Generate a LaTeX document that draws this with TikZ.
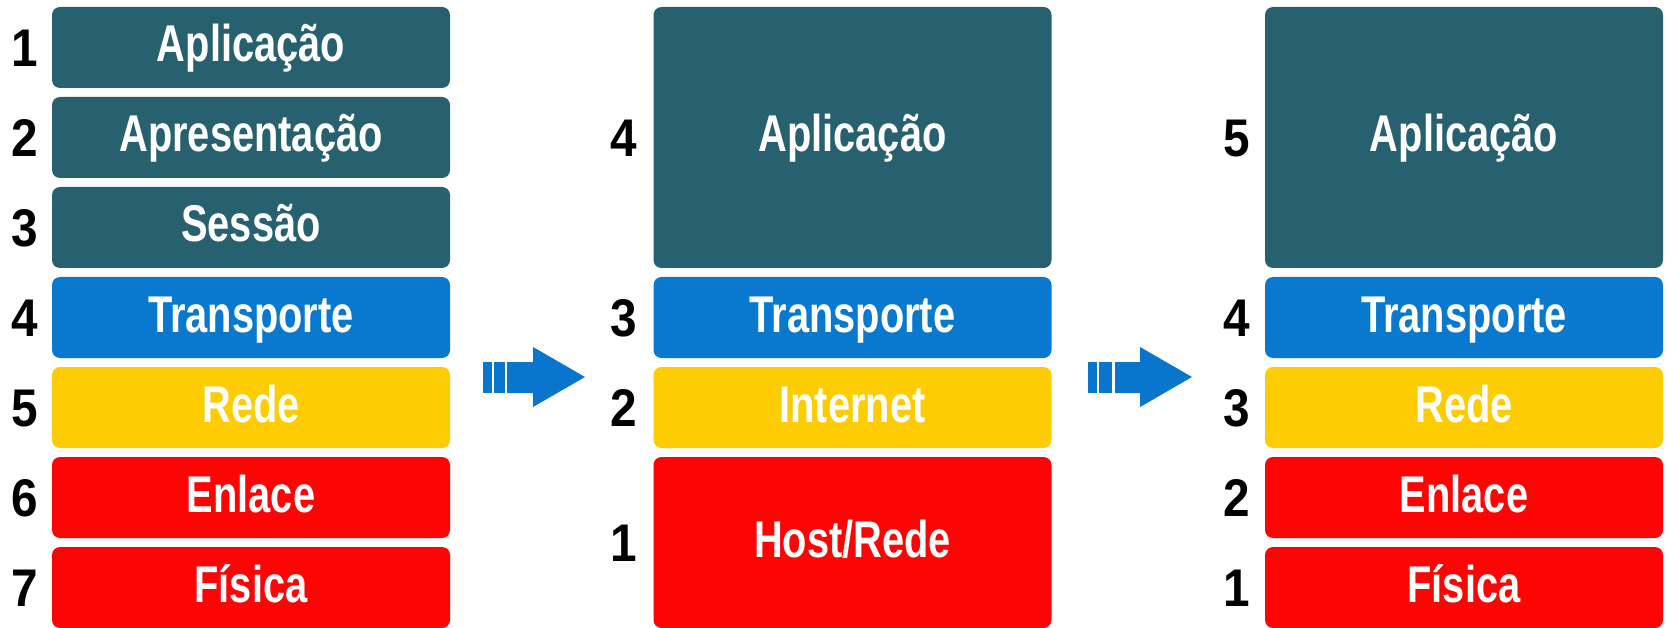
\documentclass[tikz,border=0pt]{standalone}
\usepackage{fontspec}
\setmainfont{Liberation Sans}
\newfontfamily\layerfont[FakeStretch=0.77]{Liberation Sans}
\newfontfamily\numfont[FakeStretch=0.9]{Liberation Sans}
\definecolor{cteal}{RGB}{39,97,111}
\definecolor{cblue}{RGB}{8,121,207}
\definecolor{cyellow}{RGB}{253,204,2}
\definecolor{cred}{RGB}{254,5,5}
\definecolor{carrow}{RGB}{10,117,204}
\tikzset{
  layer/.style={fill=#1, rounded corners=8pt, minimum width=398pt, minimum height=81pt,
    inner sep=0pt, text=white, font=\layerfont\bfseries\fontsize{51.7}{60}\selectfont,
    text height=29pt, text depth=0pt},
  num/.style={inner sep=0pt, text=black, font=\numfont\bfseries\fontsize{53}{60}\selectfont,
    text height=38pt, text depth=0pt},
  arrowshape/.style={fill=carrow, draw=none}
}
\begin{document}
\begin{tikzpicture}[x=1pt,y=-1pt]
\useasboundingbox[fill=white] (0,0) rectangle (1667,628);
% column 1 (OSI)
\node[layer=cteal]   (a1) at (251,47.5)  {Aplicação};
\node[layer=cteal]   (a2) at (251,137.5) {Apresentação};
\node[layer=cteal]   (a3) at (251,227.5) {Sessão};
\node[layer=cblue]   (a4) at (251,317.5) {Transporte};
\node[layer=cyellow] (a5) at (251,407.5) {Rede};
\node[layer=cred]    (a6) at (251,497.5) {Enlace};
\node[layer=cred]    (a7) at (251,587.5) {Física};
\node[num] (na1) at (25,47.5)  {1};
\node[num] (na2) at (25,137.5) {2};
\node[num] (na3) at (25,227.5) {3};
\node[num] (na4) at (25,317.5) {4};
\node[num] (na5) at (25,407.5) {5};
\node[num] (na6) at (25,497.5) {6};
\node[num] (na7) at (25,587.5) {7};
% column 2 (TCP/IP)
\node[layer=cteal, minimum height=261pt] (b4) at (852.5,137.5) {Aplicação};
\node[layer=cblue]   (b3) at (852.5,317.5) {Transporte};
\node[layer=cyellow] (b2) at (852.5,407.5) {Internet};
\node[layer=cred, minimum height=171pt] (b1) at (852.5,542.5) {Host/Rede};
\node[num] (nb4) at (624,137.5) {4};
\node[num] (nb3) at (624,317.5) {3};
\node[num] (nb2) at (624,407.5) {2};
\node[num] (nb1) at (624,542.5) {1};
% column 3 (hybrid)
\node[layer=cteal, minimum height=261pt] (c5) at (1464,137.5) {Aplicação};
\node[layer=cblue]   (c4) at (1464,317.5) {Transporte};
\node[layer=cyellow] (c3) at (1464,407.5) {Rede};
\node[layer=cred]    (c2) at (1464,497.5) {Enlace};
\node[layer=cred]    (c1) at (1464,587.5) {Física};
\node[num] (nc5) at (1237,137.5) {5};
\node[num] (nc4) at (1237,317.5) {4};
\node[num] (nc3) at (1237,407.5) {3};
\node[num] (nc2) at (1237,497.5) {2};
\node[num] (nc1) at (1237,587.5) {1};
% arrows
\fill[arrowshape] (483,362) rectangle (492,393);
\fill[arrowshape] (494,362) rectangle (505,393);
\fill[arrowshape] (507,362) -- (533,362) -- (533,347) -- (585,377) -- (533,407) -- (533,393) -- (507,393) -- cycle;
\fill[arrowshape] (1088,362) rectangle (1097,393);
\fill[arrowshape] (1099,362) rectangle (1112,393);
\fill[arrowshape] (1115,362) -- (1140,362) -- (1140,347) -- (1192,377) -- (1140,407) -- (1140,393) -- (1115,393) -- cycle;
\end{tikzpicture}
\end{document}
